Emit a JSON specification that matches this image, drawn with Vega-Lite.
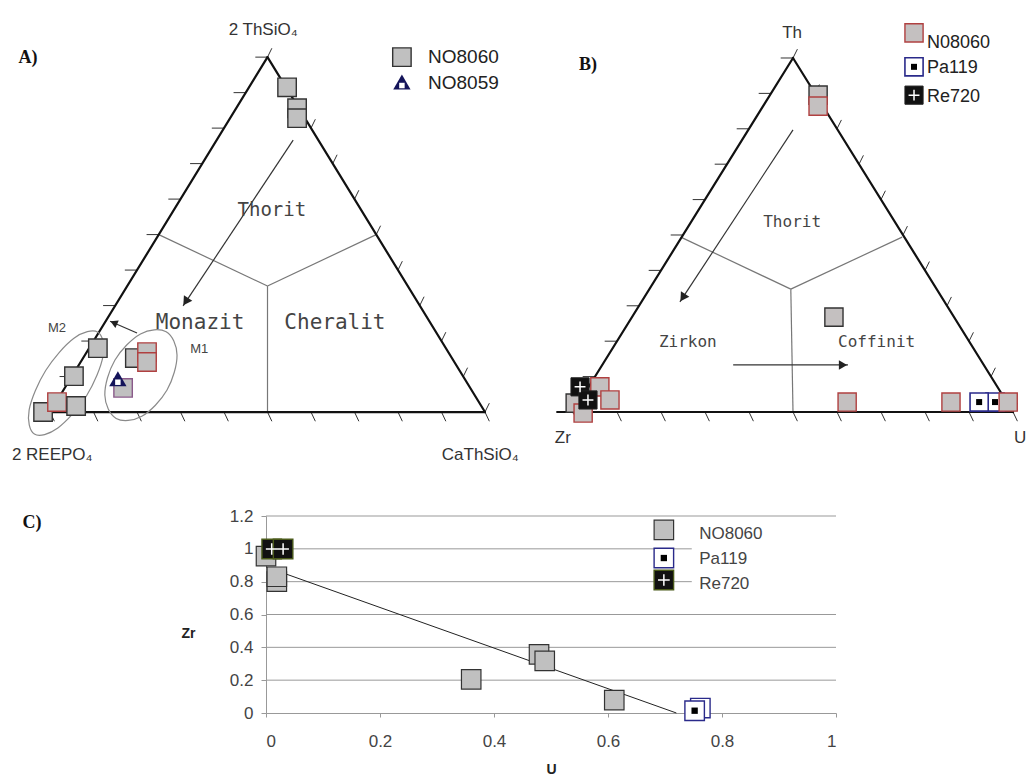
{
"$schema": "https://vega.github.io/schema/vega-lite/v6.json",
"padding": 0,
"background": "white",
"config": {"view": {"stroke": null}},
"spacing": 0,
"bounds": "full",
"datasets": {
"ticks": [
{"u":0,"v":0,"u2":-0.028,"v2":0},{"u":0.05,"v":0.1,"u2":0.022,"v2":0.1},{"u":0.1,"v":0.2,"u2":0.072,"v2":0.2},{"u":0.15,"v":0.3,"u2":0.122,"v2":0.3},{"u":0.2,"v":0.4,"u2":0.172,"v2":0.4},{"u":0.25,"v":0.5,"u2":0.222,"v2":0.5},{"u":0.3,"v":0.6,"u2":0.272,"v2":0.6},{"u":0.35,"v":0.7,"u2":0.322,"v2":0.7},{"u":0.4,"v":0.8,"u2":0.372,"v2":0.8},{"u":0.45,"v":0.9,"u2":0.422,"v2":0.9},{"u":0.5,"v":1,"u2":0.472,"v2":1},
{"u":0,"v":0,"u2":0.01,"v2":-0.026},{"u":0.1,"v":0,"u2":0.11,"v2":-0.026},{"u":0.2,"v":0,"u2":0.21,"v2":-0.026},{"u":0.3,"v":0,"u2":0.31,"v2":-0.026},{"u":0.4,"v":0,"u2":0.41,"v2":-0.026},{"u":0.5,"v":0,"u2":0.51,"v2":-0.026},{"u":0.6,"v":0,"u2":0.61,"v2":-0.026},{"u":0.7,"v":0,"u2":0.71,"v2":-0.026},{"u":0.8,"v":0,"u2":0.81,"v2":-0.026},{"u":0.9,"v":0,"u2":0.91,"v2":-0.026},{"u":1,"v":0,"u2":1.01,"v2":-0.026},
{"u":1,"v":0,"u2":1.01,"v2":0.025},{"u":0.95,"v":0.1,"u2":0.96,"v2":0.125},{"u":0.9,"v":0.2,"u2":0.91,"v2":0.225},{"u":0.85,"v":0.3,"u2":0.86,"v2":0.325},{"u":0.8,"v":0.4,"u2":0.81,"v2":0.425},{"u":0.75,"v":0.5,"u2":0.76,"v2":0.525},{"u":0.7,"v":0.6,"u2":0.71,"v2":0.625},{"u":0.65,"v":0.7,"u2":0.66,"v2":0.725},{"u":0.6,"v":0.8,"u2":0.61,"v2":0.825},{"u":0.55,"v":0.9,"u2":0.56,"v2":0.925},{"u":0.5,"v":1,"u2":0.51,"v2":1.025}
]
},
"vconcat": [
{"hconcat": [
{
"width": 525, "height": 507,
"encoding": {
"x": {"field": "u", "type": "quantitative", "scale": {"domain": [-0.115, 1.092], "nice": false, "zero": false}, "axis": null},
"y": {"field": "v", "type": "quantitative", "scale": {"domain": [-0.2676, 1.161], "nice": false, "zero": false}, "axis": null}
},
"layer": [
{"data": {"name": "ticks"}, "mark": {"type": "rule", "color": "#333", "strokeWidth": 1}, "encoding": {"x2": {"field": "u2"}, "y2": {"field": "v2"}}},
{"data": {"values": [{"u":0.25,"v":0.5,"u2":0.5,"v2":0.355},{"u":0.75,"v":0.5,"u2":0.5,"v2":0.355},{"u":0.5,"v":0.355,"u2":0.5,"v2":0}]}, "mark": {"type": "rule", "color": "#777", "strokeWidth": 1.2}, "encoding": {"x2": {"field": "u2"}, "y2": {"field": "v2"}}},
{"data": {"values": [{"u":0,"v":0,"u2":1,"v2":0},{"u":0,"v":0,"u2":0.5,"v2":1},{"u":0.5,"v":1,"u2":1,"v2":0}]}, "mark": {"type": "rule", "color": "#111", "strokeWidth": 2.2, "strokeCap": "round"}, "encoding": {"x2": {"field": "u2"}, "y2": {"field": "v2"}}},
{"data": {"values": [{"u":0.559,"v":0.766,"u2":0.306,"v2":0.299},{"u":0.2,"v":0.2225,"u2":0.138,"v2":0.256}]}, "mark": {"type": "rule", "color": "#333", "strokeWidth": 1.2}, "encoding": {"x2": {"field": "u2"}, "y2": {"field": "v2"}}},
{"data": {"values": [{"u":0.312,"v":0.311}]}, "mark": {"type": "point", "shape": "triangle-up", "filled": true, "color": "#222", "opacity": 1, "size": 100, "angle": 213.5}},
{"data": {"values": [{"u":0.1465,"v":0.2514}]}, "mark": {"type": "point", "shape": "triangle-up", "filled": true, "color": "#222", "opacity": 1, "size": 70, "angle": 294}},
{"data": {"values": [
{"e":"M2","i":0,"u":0.110,"v":0.225},{"e":"M2","i":1,"u":0.122,"v":0.158},{"e":"M2","i":2,"u":0.084,"v":0.046},{"e":"M2","i":3,"u":0.018,"v":-0.045},{"e":"M2","i":4,"u":-0.036,"v":-0.062},{"e":"M2","i":5,"u":-0.048,"v":0.006},{"e":"M2","i":6,"u":-0.010,"v":0.117},{"e":"M2","i":7,"u":0.055,"v":0.208},
{"e":"M1","i":0,"u":0.267,"v":0.226},{"e":"M1","i":1,"u":0.292,"v":0.161},{"e":"M1","i":2,"u":0.269,"v":0.062},{"e":"M1","i":3,"u":0.211,"v":-0.012},{"e":"M1","i":4,"u":0.152,"v":-0.018},{"e":"M1","i":5,"u":0.126,"v":0.048},{"e":"M1","i":6,"u":0.149,"v":0.146},{"e":"M1","i":7,"u":0.208,"v":0.220}
]}, "mark": {"type": "line", "interpolate": "cardinal-closed", "stroke": "#8a8a8a", "strokeWidth": 1.2}, "encoding": {"order": {"field": "i", "type": "quantitative"}, "detail": {"field": "e", "type": "nominal"}}},
{"data": {"values": [
{"u":0.545,"v":0.915,"g":"a"},{"u":0.568,"v":0.856,"g":"a"},{"u":0.568,"v":0.828,"g":"a"},{"u":0.110,"v":0.180,"g":"a"},{"u":0.055,"v":0.101,"g":"a"},{"u":-0.016,"v":0.0,"g":"a"},{"u":0.016,"v":0.028,"g":"b"},{"u":0.060,"v":0.017,"g":"a"},{"u":0.195,"v":0.152,"g":"a"},{"u":0.168,"v":0.068,"g":"c"},{"u":0.223,"v":0.169,"g":"b"},{"u":0.223,"v":0.141,"g":"b"},{"u":0.809,"v":1.0,"g":"a"}
]}, "mark": {"type": "point", "shape": "square", "filled": true, "fill": "#c0c0c0", "opacity": 1, "size": 340, "strokeWidth": 1.4}, "encoding": {"stroke": {"field": "g", "type": "nominal", "scale": {"domain": ["a","b","c"], "range": ["#333333","#b04040","#8a5a8a"]}, "legend": null}}},
{"data": {"values": [{"u":0.156,"v":0.094},{"u":0.809,"v":0.93}]}, "mark": {"type": "point", "shape": "triangle-up", "filled": true, "color": "#14145a", "opacity": 1, "size": 300}},
{"data": {"values": [{"u":0.156,"v":0.084},{"u":0.809,"v":0.92}]}, "mark": {"type": "point", "shape": "square", "filled": true, "color": "white", "opacity": 1, "size": 30}},
{"data": {"values": [{"u":0.869,"v":1.0,"t":"NO8060"},{"u":0.869,"v":0.927,"t":"NO8059"}]}, "mark": {"type": "text", "align": "left", "baseline": "middle", "font": "Liberation Sans", "fontSize": 19, "color": "#222"}, "encoding": {"text": {"field": "t"}}},
{"data": {"values": [{"u":0.49,"v":1.076,"t":"2 ThSiO₄"},{"u":0.005,"v":-0.121,"t":"2 REEPO₄"},{"u":0.989,"v":-0.121,"t":"CaThSiO₄"}]}, "mark": {"type": "text", "align": "center", "baseline": "middle", "font": "Liberation Sans", "fontSize": 17, "color": "#333"}, "encoding": {"text": {"field": "t"}}},
{"data": {"values": [{"u":0.016,"v":0.237,"t":"M2"},{"u":0.343,"v":0.177,"t":"M1"}]}, "mark": {"type": "text", "align": "center", "baseline": "middle", "font": "Liberation Sans", "fontSize": 13, "color": "#444"}, "encoding": {"text": {"field": "t"}}},
{"data": {"values": [{"u":0.51,"v":0.569,"t":"Thorit"}]}, "mark": {"type": "text", "align": "center", "baseline": "middle", "font": "DejaVu Sans Mono", "fontSize": 19, "color": "#444"}, "encoding": {"text": {"field": "t"}}},
{"data": {"values": [{"u":0.345,"v":0.251,"t":"Monazit"},{"u":0.655,"v":0.251,"t":"Cheralit"}]}, "mark": {"type": "text", "align": "center", "baseline": "middle", "font": "DejaVu Sans Mono", "fontSize": 21, "color": "#444"}, "encoding": {"text": {"field": "t"}}},
{"data": {"values": [{"u":-0.0506,"v":0.997,"t":"A)"}]}, "mark": {"type": "text", "align": "center", "baseline": "middle", "font": "Liberation Serif", "fontWeight": "bold", "fontSize": 18, "color": "#111"}, "encoding": {"text": {"field": "t"}}}
]
},
{
"width": 501, "height": 507,
"encoding": {
"x": {"field": "u", "type": "quantitative", "scale": {"domain": [-0.1091, 1.0295], "nice": false, "zero": false}, "axis": null},
"y": {"field": "v", "type": "quantitative", "scale": {"domain": [-0.2684, 1.1638], "nice": false, "zero": false}, "axis": null}
},
"layer": [
{"data": {"name": "ticks"}, "mark": {"type": "rule", "color": "#333", "strokeWidth": 1}, "encoding": {"x2": {"field": "u2"}, "y2": {"field": "v2"}}},
{"data": {"values": [{"u":0.245,"v":0.494,"u2":0.495,"v2":0.347},{"u":0.748,"v":0.494,"u2":0.495,"v2":0.347},{"u":0.495,"v":0.347,"u2":0.5,"v2":0}]}, "mark": {"type": "rule", "color": "#777", "strokeWidth": 1.2}, "encoding": {"x2": {"field": "u2"}, "y2": {"field": "v2"}}},
{"data": {"values": [{"u":-0.036,"v":0,"u2":1,"v2":0},{"u":0,"v":0,"u2":0.5,"v2":1},{"u":0.5,"v":1,"u2":1,"v2":0}]}, "mark": {"type": "rule", "color": "#111", "strokeWidth": 2.2, "strokeCap": "round"}, "encoding": {"x2": {"field": "u2"}, "y2": {"field": "v2"}}},
{"data": {"values": [{"u":0.5,"v":0.797,"u2":0.243,"v2":0.311},{"u":0.364,"v":0.133,"u2":0.625,"v2":0.133}]}, "mark": {"type": "rule", "color": "#333", "strokeWidth": 1.2}, "encoding": {"x2": {"field": "u2"}, "y2": {"field": "v2"}}},
{"data": {"values": [{"u":0.2494,"v":0.3229}]}, "mark": {"type": "point", "shape": "triangle-up", "filled": true, "color": "#222", "opacity": 1, "size": 100, "angle": 213.3}},
{"data": {"values": [{"u":0.6136,"v":0.133}]}, "mark": {"type": "point", "shape": "triangle-up", "filled": true, "color": "#222", "opacity": 1, "size": 90, "angle": 90}},
{"data": {"values": [{"u":0.959,"v":0.028},{"u":0.923,"v":0.028},{"u":0.775,"v":0.975}]}, "mark": {"type": "point", "shape": "square", "filled": true, "fill": "white", "stroke": "#2a2a8a", "strokeWidth": 1.6, "opacity": 1, "size": 330}},
{"data": {"values": [{"u":0.959,"v":0.028},{"u":0.923,"v":0.028},{"u":0.775,"v":0.975}]}, "mark": {"type": "point", "shape": "square", "filled": true, "color": "black", "opacity": 1, "size": 36}},
{"data": {"values": [
{"u":0.557,"v":0.895,"g":"a"},{"u":0.557,"v":0.864,"g":"b"},{"u":0.593,"v":0.268,"g":"a"},{"u":0.623,"v":0.028,"g":"b"},{"u":0.859,"v":0.028,"g":"b"},{"u":0.989,"v":0.028,"g":"b"},{"u":0.005,"v":0.025,"g":"a"},{"u":0.023,"v":-0.003,"g":"b"},{"u":0.061,"v":0.071,"g":"b"},{"u":0.084,"v":0.034,"g":"b"},{"u":0.775,"v":1.071,"g":"b"}
]}, "mark": {"type": "point", "shape": "square", "filled": true, "fill": "#c4c0c0", "opacity": 1, "size": 330, "strokeWidth": 1.4}, "encoding": {"stroke": {"field": "g", "type": "nominal", "scale": {"domain": ["a","b"], "range": ["#333333","#b04040"]}, "legend": null}}},
{"data": {"values": [{"u":0.016,"v":0.071},{"u":0.034,"v":0.034},{"u":0.775,"v":0.895}]}, "mark": {"type": "point", "shape": "square", "filled": true, "fill": "#111", "stroke": "#222", "strokeWidth": 1, "opacity": 1, "size": 330}},
{"data": {"values": [{"u":0.016,"v":0.071},{"u":0.034,"v":0.034},{"u":0.775,"v":0.895}]}, "mark": {"type": "point", "shape": "M-0.6,0H0.6M0,-0.6V0.6", "filled": false, "stroke": "white", "strokeWidth": 1.5, "opacity": 1, "size": 330}},
{"data": {"values": [{"u":0.8045,"v":1.042,"t":"N08060"},{"u":0.8045,"v":0.972,"t":"Pa119"},{"u":0.8045,"v":0.890,"t":"Re720"}]}, "mark": {"type": "text", "align": "left", "baseline": "middle", "font": "Liberation Sans", "fontSize": 18, "color": "#222"}, "encoding": {"text": {"field": "t"}}},
{"data": {"values": [{"u":0.498,"v":1.071,"t":"Th"},{"u":-0.023,"v":-0.073,"t":"Zr"},{"u":1.016,"v":-0.073,"t":"U"}]}, "mark": {"type": "text", "align": "center", "baseline": "middle", "font": "Liberation Sans", "fontSize": 17, "color": "#333"}, "encoding": {"text": {"field": "t"}}},
{"data": {"values": [{"u":0.498,"v":0.537,"t":"Thorit"},{"u":0.261,"v":0.198,"t":"Zirkon"},{"u":0.69,"v":0.198,"t":"Coffinit"}]}, "mark": {"type": "text", "align": "center", "baseline": "middle", "font": "DejaVu Sans Mono", "fontSize": 16, "color": "#444"}, "encoding": {"text": {"field": "t"}}},
{"data": {"values": [{"u":0.034,"v":0.98,"t":"B)"}]}, "mark": {"type": "text", "align": "center", "baseline": "middle", "font": "Liberation Serif", "fontWeight": "bold", "fontSize": 18, "color": "#111"}, "encoding": {"text": {"field": "t"}}}
]
}
], "spacing": 0, "bounds": "flush"},
{"hconcat": [
{
"width": 266, "height": 197,
"data": {"values": [{"sx": 0.12, "sy": 0.964, "t": "C)"}]},
"mark": {"type": "text", "align": "center", "baseline": "middle", "font": "Liberation Serif", "fontWeight": "bold", "fontSize": 18, "color": "#111"},
"encoding": {
"x": {"field": "sx", "type": "quantitative", "scale": {"domain": [0, 1], "nice": false, "zero": false}, "axis": null},
"y": {"field": "sy", "type": "quantitative", "scale": {"domain": [0, 1], "nice": false, "zero": false}, "axis": null},
"text": {"field": "t"}
}
},
{
"width": 570, "height": 197,
"encoding": {
"x": {"field": "U", "type": "quantitative", "scale": {"domain": [0, 1], "nice": false, "zero": false}, "axis": {"values": [0,0.2,0.4,0.6,0.8,1], "format": "~g", "grid": false, "domainColor": "#999", "tickColor": "#999", "tickSize": 4, "labelFont": "Liberation Sans", "labelFontSize": 17, "labelColor": "#444", "labelPadding": 16, "title": "U", "titleFont": "Liberation Sans", "titleFontSize": 14, "titleFontWeight": "bold", "titleColor": "#222", "titlePadding": 13}},
"y": {"field": "Zr", "type": "quantitative", "scale": {"domain": [0, 1.2], "nice": false, "zero": false}, "axis": {"values": [0,0.2,0.4,0.6,0.8,1,1.2], "format": "~g", "grid": false, "domainColor": "#999", "tickColor": "#999", "tickSize": 5, "labelFont": "Liberation Sans", "labelFontSize": 17, "labelColor": "#444", "labelPadding": 8, "title": "Zr", "titleFont": "Liberation Sans", "titleFontSize": 14, "titleFontWeight": "bold", "titleColor": "#222", "titleAngle": 0, "titleX": -78, "titleY": 117, "titleAlign": "center", "titleBaseline": "middle"}}
},
"layer": [
{"data": {"values": [{"Zr":0.2,"U":0,"U2":1},{"Zr":0.4,"U":0,"U2":1},{"Zr":0.6,"U":0,"U2":1},{"Zr":0.8,"U":0,"U2":0.747},{"Zr":1.0,"U":0,"U2":0.747},{"Zr":1.2,"U":0,"U2":1}]}, "mark": {"type": "rule", "color": "#999", "strokeWidth": 1}, "encoding": {"x2": {"field": "U2"}}},
{"data": {"values": [{"U":0,"Zr":0.89},{"U":0.72,"Zr":0}]}, "mark": {"type": "line", "color": "#222", "strokeWidth": 1}, "encoding": {}},
{"data": {"values": [{"U":0,"Zr":0.956},{"U":0.019,"Zr":0.80},{"U":0.019,"Zr":0.83},{"U":0.36,"Zr":0.205},{"U":0.479,"Zr":0.357},{"U":0.489,"Zr":0.317},{"U":0.611,"Zr":0.079},{"U":0.698,"Zr":1.115}]}, "mark": {"type": "point", "shape": "square", "filled": true, "fill": "#c0c0c0", "stroke": "#333", "strokeWidth": 1.2, "opacity": 1, "size": 380}},
{"data": {"values": [{"U":0.762,"Zr":0.03},{"U":0.752,"Zr":0.014},{"U":0.698,"Zr":0.944}]}, "mark": {"type": "point", "shape": "square", "filled": true, "fill": "white", "stroke": "#2a2a8a", "strokeWidth": 1.4, "opacity": 1, "size": 380}},
{"data": {"values": [{"U":0.752,"Zr":0.014},{"U":0.698,"Zr":0.944}]}, "mark": {"type": "point", "shape": "square", "filled": true, "color": "black", "opacity": 1, "size": 40}},
{"data": {"values": [{"U":0.01,"Zr":0.999},{"U":0.03,"Zr":0.999},{"U":0.698,"Zr":0.81}]}, "mark": {"type": "point", "shape": "square", "filled": true, "fill": "#111", "stroke": "#4a5a1a", "strokeWidth": 1.4, "opacity": 1, "size": 380}},
{"data": {"values": [{"U":0.01,"Zr":0.999},{"U":0.03,"Zr":0.999},{"U":0.698,"Zr":0.81}]}, "mark": {"type": "point", "shape": "M-0.6,0H0.6M0,-0.6V0.6", "filled": false, "stroke": "white", "strokeWidth": 1.5, "opacity": 1, "size": 380}},
{"data": {"values": [{"U":0.76,"Zr":1.09,"t":"NO8060"},{"U":0.76,"Zr":0.938,"t":"Pa119"},{"U":0.76,"Zr":0.786,"t":"Re720"}]}, "mark": {"type": "text", "align": "left", "baseline": "middle", "font": "Liberation Sans", "fontSize": 17, "color": "#444"}, "encoding": {"text": {"field": "t"}}}
]
}
], "spacing": 0, "bounds": "flush"}
]
}
